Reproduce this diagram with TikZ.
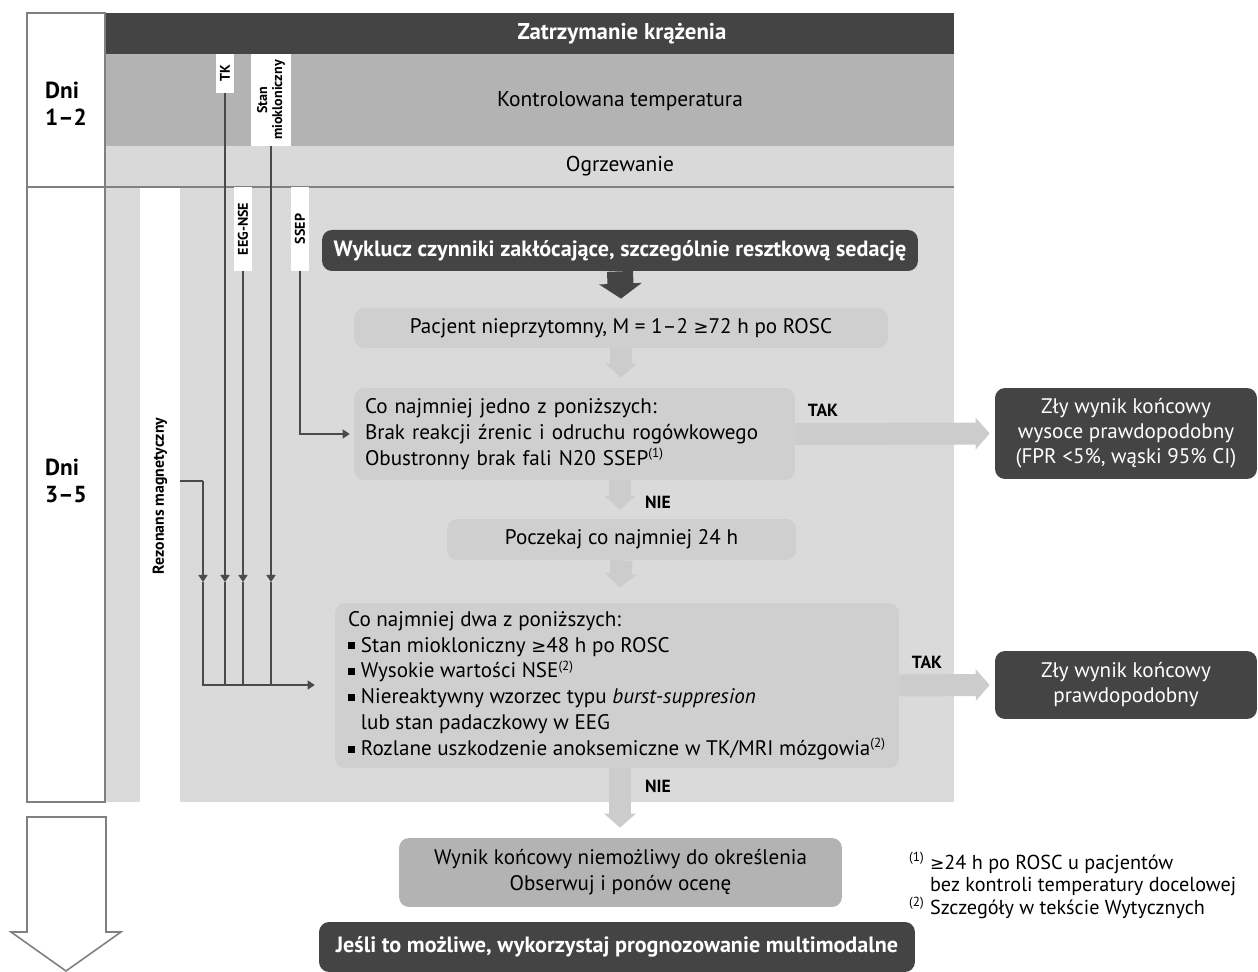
\documentclass[tikz,border=0pt]{standalone}
\usepackage{fontspec}
\setmainfont{PT Sans}
\newfontfamily\symfont{DejaVu Sans}[Scale=0.85]
\usetikzlibrary{positioning, arrows.meta}

\definecolor{darkbox}{HTML}{444444}
\definecolor{midgray}{HTML}{B3B3B3}
\definecolor{bandgray}{HTML}{D9D9D9}
\definecolor{secgray}{HTML}{DADADA}
\definecolor{boxgray}{HTML}{CFCFCF}
\definecolor{arrowgray}{HTML}{CCCCCC}
\definecolor{linegray}{HTML}{4A4A4A}

\newcommand{\gesym}{{\symfont ≥}}
\newcommand{\sqbul}{\rule[0.12em]{0.34em}{0.34em}}
\newcommand{\fn}[1]{\textsuperscript{\fontsize{7.5}{7.5}\selectfont(#1)}}

\tikzset{
  flow/.style={rounded corners=0.2cm, fill=boxgray, inner sep=0pt,
    font=\fontsize{12}{14.7}\selectfont},
  dark/.style={flow, fill=darkbox, text=white, font=\bfseries\fontsize{12.6}{14}\selectfont},
  result/.style={flow, fill=darkbox, text=white, align=center,
    font=\fontsize{12}{14.2}\selectfont, minimum width=5.24cm},
  tag/.style={fill=white, rotate=90, inner sep=0pt, align=center,
    font=\bfseries\fontsize{8}{8.6}\selectfont},
  head/.style={font=\fontsize{12.2}{13}\selectfont},
  day/.style={align=left, font=\bfseries\fontsize{13.2}{15.5}\selectfont},
  answer/.style={font=\bfseries\fontsize{10}{10}\selectfont},
  frame/.style={draw=black!50, line width=0.9pt},
  conn/.style={draw=linegray, line width=0.6pt},
  pointer/.style={-{Triangle[length=4pt,width=5.2pt]}},
  fat/.style={draw=arrowgray, line width=0.44cm, -{Triangle[length=0.28cm,width=0.62cm]}},
  fatdark/.style={draw=darkbox, line width=0.52cm, -{Triangle[length=0.3cm,width=0.84cm]}}
}

\begin{document}
\begin{tikzpicture}[x=0.02cm, y=-0.02cm]
  \useasboundingbox (0,0) rectangle (1258,972);

  % time bands
  \fill[darkbox] (105,13) rectangle (954,54);
  \fill[midgray] (105,54) rectangle (954,146);
  \fill[bandgray] (105,146) rectangle (954,187);
  \fill[secgray] (105,187) rectangle (954,802);
  \fill[white] (140,187) rectangle (180,802);
  \draw[frame] (27,13) rectangle (105,187);
  \draw[frame] (27,187) rectangle (105,802);
  \draw[frame] (105,187) -- (954,187);
  \draw[frame, fill=white] (27,817) -- (106,817) -- (106,932) -- (121,932)
    -- (66,971) -- (11,932) -- (27,932) -- cycle;

  \node[day] (d12) at (66,104) {Dni\\1–2};
  \node[day] (d35) at (66,481) {Dni\\3–5};
  \node[head, font=\bfseries\fontsize{13}{13}\selectfont, text=white] (arrest) at (622,34) {Zatrzymanie krążenia};
  \node[head] (temp) at (620,101) {Kontrolowana temperatura};
  \node[head] (rewarm) at (620,166.5) {Ogrzewanie};

  % examinations
  \node[tag, minimum width=0.78cm, minimum height=0.36cm] (tk) at (225,73.5) {TK};
  \node[tag, minimum width=1.84cm, minimum height=0.8cm] (myo) at (271,100) {Stan\\miokloniczny};
  \node[tag, minimum width=1.68cm, minimum height=0.36cm] (eeg) at (243,229) {EEG-NSE};
  \node[tag, minimum width=1.68cm, minimum height=0.36cm] (ssep) at (300,229) {SSEP};
  \node[tag, font=\bfseries\fontsize{9}{9}\selectfont] (mri) at (160,496) {Rezonans magnetyczny};

  % flow
  \node[dark, minimum width=11.92cm, minimum height=0.82cm] (excl) at (620,250.5)
    {Wyklucz czynniki zakłócające, szczególnie resztkową sedację};
  \node[flow, minimum width=10.68cm, minimum height=0.8cm] (pat) at (621,328)
    {Pacjent nieprzytomny, M = 1–2 \gesym72 h po ROSC};
  \node[flow, minimum width=8.82cm, minimum height=1.84cm, text width=8.38cm, align=left] (one) at (574.5,434)
    {Co najmniej jedno z poniższych:\\
     Brak reakcji źrenic i odruchu rogówkowego\\
     Obustronny brak fali N20 SSEP\fn{1}};
  \node[flow, minimum width=6.98cm, minimum height=0.82cm] (wait) at (621.5,539.5)
    {Poczekaj co najmniej 24 h};
  \node[flow, minimum width=11.28cm, minimum height=3.3cm, align=left] (two) at (617,685.5)
    {Co najmniej dwa z poniższych:\\
     \sqbul\ Stan miokloniczny \gesym48 h po ROSC\\
     \sqbul\ Wysokie wartości NSE\fn{2}\\
     \sqbul\ Niereaktywny wzorzec typu \textit{burst-suppresion}\\
     \phantom{\sqbul\ }lub stan padaczkowy w EEG\\
     \sqbul\ Rozlane uszkodzenie anoksemiczne w TK/MRI mózgowia\fn{2}};
  \node[flow, fill=midgray, align=center, minimum width=8.86cm, minimum height=1.38cm] (undet) at (620.5,872.5)
    {Wynik końcowy niemożliwy do określenia\\Obserwuj i ponów ocenę};
  \node[dark, minimum width=11.92cm, minimum height=1.0cm] (multi) at (617,947)
    {Jeśli to możliwe, wykorzystaj prognozowanie multimodalne};
  \node[result, minimum height=1.82cm] (high) at (1126,433.5)
    {Zły wynik końcowy\\wysoce prawdopodobny\\(FPR <5\%, wąski 95\% CI)};
  \node[result, minimum height=1.36cm] (likely) at (1126,685)
    {Zły wynik końcowy\\prawdopodobny};

  \draw[fatdark] (excl.south) -- ([yshift=0.18cm]pat.north);
  \draw[fat] (pat.south) -- ([yshift=0.2cm]pat.south |- one.north);
  \draw[fat] (excl |- one.south) -- ([yshift=0.18cm]excl |- wait.north);
  \draw[fat] (wait.south) -- ([yshift=0.3cm]excl |- two.north);
  \draw[fat] (excl |- two.south) -- ([yshift=0.2cm]excl |- undet.north);
  \draw[fat] (one.east) -- ([xshift=-0.1cm]high.west);
  \draw[fat] (two.east) -- ([xshift=-0.1cm]likely.west);

  \node[answer] (yes1) at (823,410) {TAK};
  \node[answer] (yes2) at (927,662) {TAK};
  \node[answer] (no1) at (658,502) {NIE};
  \node[answer] (no2) at (658,786) {NIE};

  % examination lines
  \coordinate (mid) at (0,582);
  \coordinate (bus) at (0,685);
  \coordinate (mrout) at (180,481);
  \coordinate (mrdrop) at (203,481);
  \draw[conn, pointer] (tk.west) -- (tk.west |- mid);
  \draw[conn] (tk.west |- mid) -- (tk.west |- bus);
  \draw[conn, pointer] (myo.west) -- (myo.west |- mid);
  \draw[conn] (myo.west |- mid) -- (myo.west |- bus);
  \draw[conn, pointer] (eeg.west) -- (eeg.west |- mid);
  \draw[conn] (eeg.west |- mid) -- (eeg.west |- bus);
  \draw[conn] (mrout) -- (mrdrop);
  \draw[conn, pointer] (mrdrop) -- (mrdrop |- mid);
  \draw[conn, pointer] (mrdrop |- mid) -- (mrdrop |- bus) -- ([xshift=-0.4cm]two.west |- bus);
  \draw[conn, pointer] (ssep.west) |- ([xshift=-0.08cm]one.west);

  \node[anchor=west, align=left, font=\fontsize{11.5}{12.8}\selectfont] (notes) at (903,885.5)
    {\fn{1} \gesym24 h po ROSC u pacjentów\\
     \phantom{\fn{1} }bez kontroli temperatury docelowej\\
     \fn{2} Szczegóły w tekście Wytycznych};
\end{tikzpicture}
\end{document}
